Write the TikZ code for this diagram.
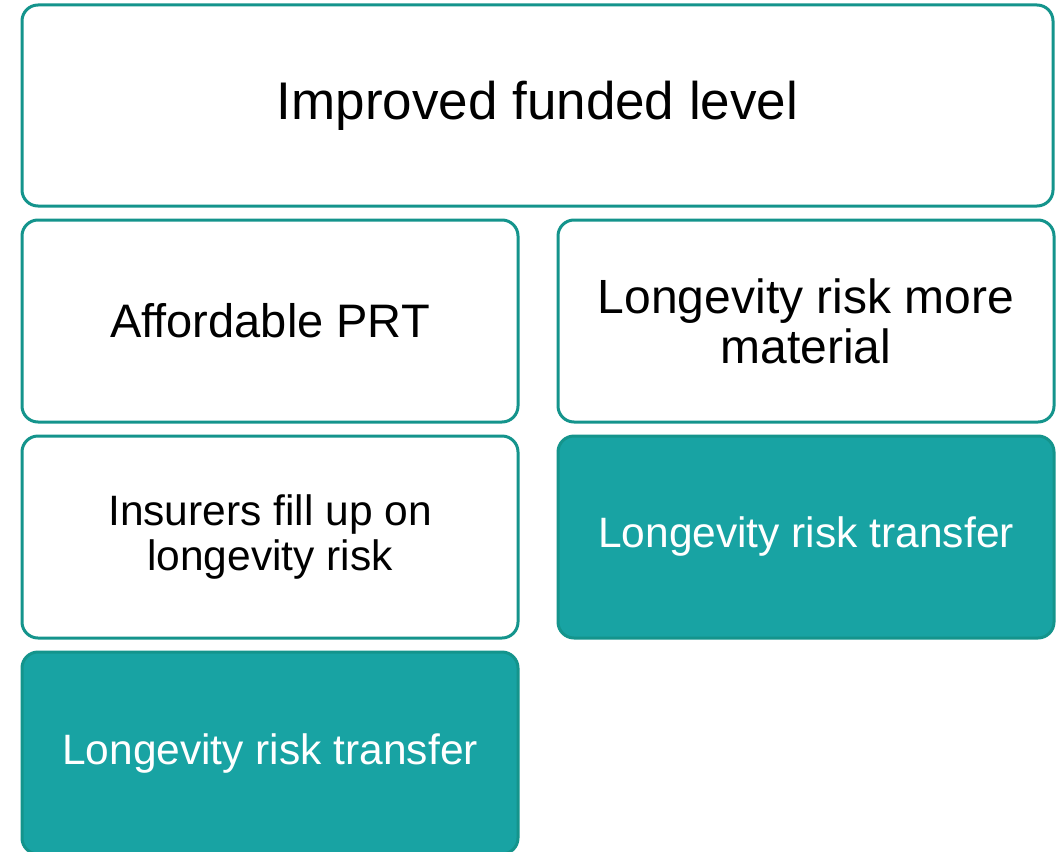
\documentclass[tikz,border=0pt]{standalone}
\usepackage{fontspec}
\setmainfont{Liberation Sans}
\usepackage{tikz}

\definecolor{tealline}{RGB}{20,148,140}
\definecolor{tealfill}{RGB}{24,163,163}

\begin{document}
\begin{tikzpicture}[x=1pt,y=-1pt,
    box/.style={rectangle,draw=tealline,line width=3pt,rounded corners=16pt,
        fill=white,inner sep=0pt,align=center,minimum width=496pt,minimum height=202pt},
    tealbox/.style={box,fill=tealfill,draw=tealline,text=white}]
            \useasboundingbox (0,0) rectangle (1056,851);
            \node (funded) at (537.5,105.5) [box,minimum width=1031pt,minimum height=201pt,
                font=\fontsize{53}{60}\selectfont] {Improved funded level};
            \node (prt) at (270,321) [box,font=\fontsize{47}{52}\selectfont] {Affordable PRT};
            \node (material) at (806,321) [box,font=\fontsize{48}{50}\selectfont] {Longevity risk more\\material};
            \node (insurers) at (270,537) [box,font=\fontsize{42.5}{45}\selectfont] {Insurers fill up on\\longevity risk};
            \node (transfer) at (806,537) [tealbox,font=\fontsize{42.5}{46}\selectfont] {Longevity risk transfer};
            % last box runs off the bottom edge
            \node (transferb) at (270,753) [tealbox,font=\fontsize{42.5}{46}\selectfont] {Longevity risk transfer};
        \end{tikzpicture}
\end{document}
